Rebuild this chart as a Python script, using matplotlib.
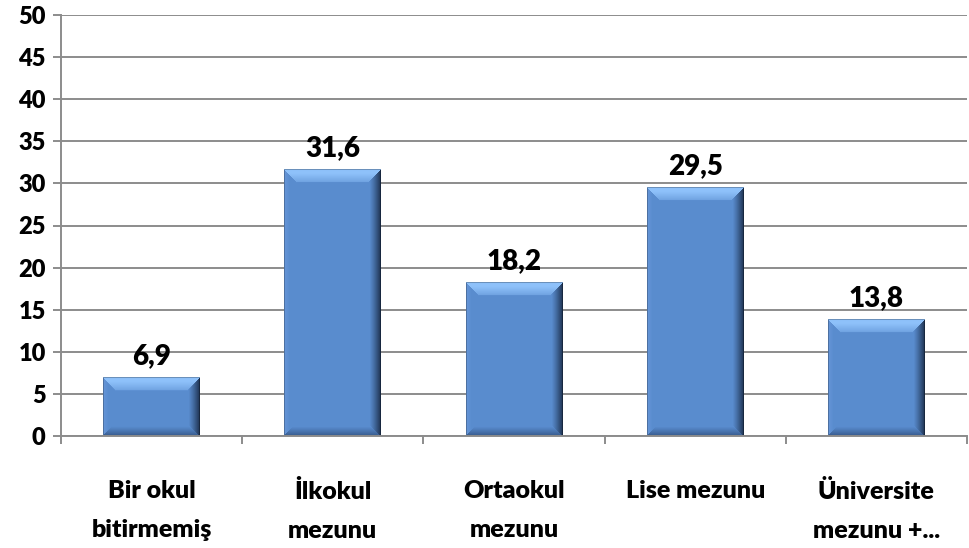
import numpy as np
import matplotlib as mpl
mpl.use('Agg')
import matplotlib.pyplot as plt

# Data
categories = ['Bir okul\nbitirmemiş', 'İlkokul\nmezunu', 'Ortaokul\nmezunu', 'Lise mezunu', 'Üniversite\nmezunu +...']
values = [6.9, 31.6, 18.2, 29.5, 13.8]
value_labels = ['6,9', '31,6', '18,2', '29,5', '13,8']
yticks = [0, 5, 10, 15, 20, 25, 30, 35, 40, 45, 50]

plt.rcParams['font.family'] = ['Lato', 'DejaVu Sans']

W, H, DPI = 9.69, 5.48, 100
fg = plt.figure(figsize=(W, H), dpi=DPI)
ax_w_px, ax_h_px = 906, 421
ax = fg.add_axes([61 / 969, 1 - 436 / 548, ax_w_px / 969, ax_h_px / 548])

x = np.arange(len(values))
bw = 0.535
ax.set_xlim(-0.5, len(values) - 0.5)
ax.set_ylim(0, 50)

# gridlines
ax.set_yticks(yticks)
ax.yaxis.grid(True, color='#8c8c8c', linewidth=1.4)
ax.set_axisbelow(True)


def bevel_image(wp, hp):
  # build an RGB image of a bevelled bar, wp x hp pixels
  base = np.array([0.35, 0.55, 0.81])
  img = np.tile(base, (hp, wp, 1))
  yy, xx = np.mgrid[0:hp, 0:wp].astype(float)
  d_top, d_bot = yy, hp - 1 - yy
  d_left, d_right = xx, wp - 1 - xx
  dmin = np.minimum(np.minimum(d_top, d_bot), np.minimum(d_left, d_right))
  light = np.array([0.58, 0.78, 1.00])
  dark = np.array([0.10, 0.17, 0.28])
  mid_dark = np.array([0.20, 0.33, 0.52])
  leftc = np.array([0.42, 0.60, 0.86])
  # top bevel
  b = 13.0
  m = (d_top == dmin) & (d_top < b)
  t = np.clip(1.3 - d_top / b, 0, 1) ** 0.8
  img[m] = img[m] * (1 - (t[m] * 0.9)[:, None]) + light * (t[m] * 0.9)[:, None]
  # right bevel
  b = 11.0
  m = (d_right == dmin) & (d_right < b) & ~(d_top == dmin)
  t = (1 - d_right / b) ** 1.2
  img[m] = img[m] * (1 - (t[m] * 0.9)[:, None]) + dark * (t[m] * 0.9)[:, None]
  # bottom bevel
  b = 9.0
  m = (d_bot == dmin) & (d_bot < b) & ~(d_right == dmin)
  t = (1 - d_bot / b) ** 1.1
  img[m] = img[m] * (1 - (t[m] * 0.85)[:, None]) + mid_dark * (t[m] * 0.85)[:, None]
  # left bevel
  b = 5.0
  m = (d_left == dmin) & (d_left < b) & ~(d_top == dmin) & ~(d_bot == dmin)
  t = 1 - d_left / b
  img[m] = img[m] * (1 - (t[m] * 0.7)[:, None]) + leftc * (t[m] * 0.7)[:, None]
  # thin outline
  edge = dmin < 1
  img[edge] = img[edge] * 0.75
  return np.clip(img, 0, 1)


# bars (invisible containers) + bevel images
bars = ax.bar(x, values, width=bw, color='none', edgecolor='none', zorder=2)
px_per_x = ax_w_px / len(values)
px_per_y = ax_h_px / 50.0
for b in bars:
  x0, y0 = b.get_x(), b.get_y()
  wd, ht = b.get_width(), b.get_height()
  wp = int(round(wd * px_per_x))
  hp = int(round(ht * px_per_y))
  img = bevel_image(wp, hp)
  ax.imshow(img, extent=(x0, x0 + wd, y0, y0 + ht), aspect='auto', interpolation='bilinear', zorder=3)

# value labels
for xi, v, s in zip(x, values, value_labels):
  ax.annotate(s, (xi, v), xytext=(0, 6), textcoords='offset points', ha='center', va='bottom',
              fontsize=20, fontweight='heavy', color='black')

ax.set_xlim(-0.5, len(values) - 0.5)
ax.set_ylim(0, 50)

# axes styling
for sp in ['top', 'right']:
  ax.spines[sp].set_visible(False)
ax.spines['left'].set_color('#8c8c8c')
ax.spines['bottom'].set_color('#8c8c8c')
ax.spines['left'].set_linewidth(1.4)
ax.spines['bottom'].set_linewidth(1.4)
ax.spines['bottom'].set_zorder(5)

ax.tick_params(axis='y', length=6, width=1.4, color='#8c8c8c', labelsize=17, pad=5)
ax.set_yticklabels([str(t) for t in yticks], fontweight='heavy')

ax.set_xticks(x)
ax.set_xticklabels(categories, fontsize=18, fontweight='heavy', linespacing=1.9)
ax.tick_params(axis='x', which='major', length=0, pad=32)
ax.set_xticks(np.arange(-0.5, len(values), 1.0), minor=True)
ax.tick_params(axis='x', which='minor', length=6, width=1.4, color='#8c8c8c')

fg.savefig('out.png', dpi=DPI)
